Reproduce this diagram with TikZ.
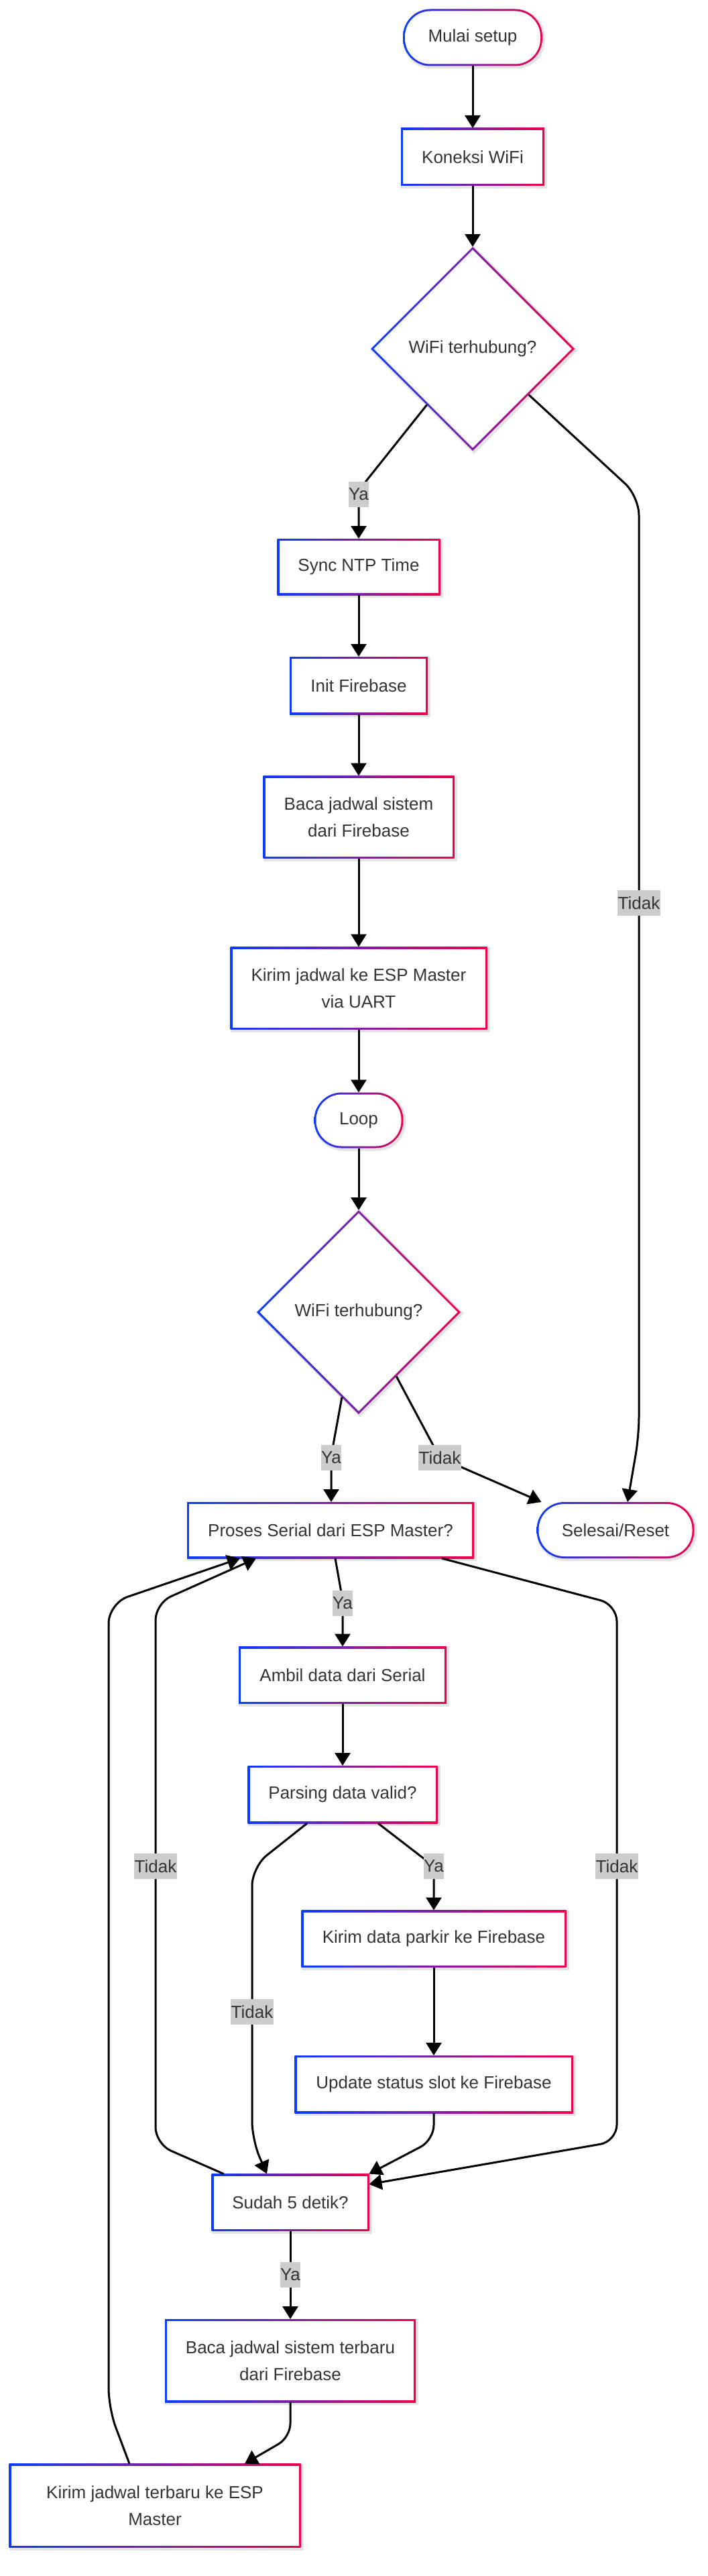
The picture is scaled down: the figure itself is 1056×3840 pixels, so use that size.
\documentclass[tikz,border=0pt]{standalone}
\usepackage{fontspec}
\setmainfont{Liberation Sans}
\usetikzlibrary{shapes.geometric,arrows.meta,calc}
\definecolor{gblue}{RGB}{10,60,255}
\definecolor{gred}{RGB}{240,0,74}
\definecolor{txt}{RGB}{51,51,51}
\definecolor{lblbg}{RGB}{204,204,204}
\definecolor{shad}{RGB}{228,228,228}
\tikzset{
  base/.style={inner sep=0pt, outer sep=0pt, align=center, text=txt, font=\fontsize{26}{40}\selectfont},
  shadowed/.style={preaction={draw=shad, line width=4pt, transform canvas={shift={(2pt,-2pt)}}}},
  gradrect/.style={base, shadowed, rectangle, path picture={
    \shade[left color=gblue,right color=gred] (path picture bounding box.south west) rectangle (path picture bounding box.north east);
    \fill[white] ([shift={(3pt,3pt)}]path picture bounding box.south west) rectangle ([shift={(-3pt,-3pt)}]path picture bounding box.north east);}},
  gradpill/.style={base, shadowed, rectangle, rounded corners=41pt, path picture={
    \shade[left color=gblue,right color=gred] (path picture bounding box.south west) rectangle (path picture bounding box.north east);
    \fill[white, rounded corners=38pt] ([shift={(3pt,3pt)}]path picture bounding box.south west) rectangle ([shift={(-3pt,-3pt)}]path picture bounding box.north east);}},
  graddia/.style={base, shadowed, diamond, aspect=1, minimum width=304pt, minimum height=304pt, path picture={
    \shade[left color=gblue,right color=gred] (path picture bounding box.south west) rectangle (path picture bounding box.north east);
    \fill[white] ([yshift=-4.3pt]path picture bounding box.north) -- ([xshift=-4.3pt]path picture bounding box.east) -- ([yshift=4.3pt]path picture bounding box.south) -- ([xshift=4.3pt]path picture bounding box.west) -- cycle;}},
  conn/.style={draw=black, line width=3pt, -{Triangle[length=19pt,width=23pt]}},
  lbl/.style={base, fill=lblbg, inner xsep=0.5pt, minimum height=38pt}
}
\begin{document}
\begin{tikzpicture}[x=1pt,y=-1pt]
\fill[white] (0,0) rectangle (1056,3840);
\useasboundingbox (0,0) rectangle (1056,3840);

% nodes
\node[gradpill, minimum width=208pt, minimum height=85pt] (start) at (705,56) {Mulai setup};
\node[gradrect, minimum width=214pt, minimum height=86pt] (wifi) at (705,234) {Koneksi WiFi};
\node[graddia] (d1) at (705,520) {WiFi terhubung?};
\node[gradrect, minimum width=243pt, minimum height=84pt] (ntp) at (535,845) {Sync NTP Time};
\node[gradrect, minimum width=206pt, minimum height=86pt] (fb) at (535,1022) {Init Firebase};
\node[gradrect, minimum width=285pt, minimum height=123pt] (baca) at (535,1218) {Baca jadwal sistem\\dari Firebase};
\node[gradrect, minimum width=383pt, minimum height=123pt] (kirim) at (535,1473) {Kirim jadwal ke ESP Master\\via UART};
\node[gradpill, minimum width=133pt, minimum height=83pt] (loop) at (535,1670) {Loop};
\node[graddia] (d2) at (535,1956) {WiFi terhubung?};
\node[gradrect, minimum width=428pt, minimum height=84pt] (proses) at (493,2281) {Proses Serial dari ESP Master?};
\node[gradpill, minimum width=235pt, minimum height=84pt] (selesai) at (918,2281) {Selesai/Reset};
\node[gradrect, minimum width=310pt, minimum height=85pt] (ambil) at (511,2497) {Ambil data dari Serial};
\node[gradrect, minimum width=283pt, minimum height=86pt] (parsing) at (511,2675) {Parsing data valid?};
\node[gradrect, minimum width=395pt, minimum height=85pt] (kdata) at (647,2890) {Kirim data parkir ke Firebase};
\node[gradrect, minimum width=415pt, minimum height=86pt] (update) at (647,3107) {Update status slot ke Firebase};
\node[gradrect, minimum width=235pt, minimum height=85pt] (sudah) at (433,3283) {Sudah 5 detik?};
\node[gradrect, minimum width=374pt, minimum height=124pt] (bacat) at (433,3519) {Baca jadwal sistem terbaru\\dari Firebase};
\node[gradrect, minimum width=435pt, minimum height=125pt] (kirimt) at (231,3735) {Kirim jadwal terbaru ke ESP\\Master};

% connectors
\draw[conn] (start) -- (wifi);
\draw[conn] (wifi) -- (d1);
\draw[conn, rounded corners=14pt] ($(d1.west)!0.55!(d1.south)$) -- (535,731) -- (ntp.north);
\draw[conn, rounded corners=28pt] ($(d1.east)!0.45!(d1.south)$) -- (953,740) -- (953,2140) -- ($(selesai.north)+(18,0)$);
\draw[conn] (ntp) -- (fb);
\draw[conn] (fb) -- (baca);
\draw[conn] (baca) -- (kirim);
\draw[conn] (kirim) -- (loop);
\draw[conn] (loop) -- (d2);
\draw[conn, rounded corners=10pt] ($(d2.south)!0.165!(d2.west)$) -- (494,2170) -- (proses.north -| 494,0);
\draw[conn, rounded corners=6pt] ($(d2.south)!0.37!(d2.east)$) -- (656,2173) -- ($(selesai.north west)+(7,0)$);
\draw[conn, rounded corners=10pt] ($(proses.south)+(7,0)$) -- (511,2385) -- (ambil.north);
\draw[conn] (ambil) -- (parsing);
\draw[conn, rounded corners=12pt] ($(parsing.south)+(53,0)$) -- (647,2782) -- (kdata.north);
\draw[conn, rounded corners=28pt] ($(parsing.south)+(-53,0)$) -- (376,2783) -- (376,3190) -- ($(sudah.north)+(-35,0)$);
\draw[conn] (kdata) -- (update);
\draw[conn, rounded corners=22pt] (update.south) -- (647,3190) -- (sudah.north east);
\draw[conn, rounded corners=25pt] ($(proses.south)+(166,0)$) -- (920,2392) -- (920,3192) -- ($(sudah.east)+(0,-27)$);
\draw[conn, rounded corners=25pt] ($(sudah.north west)+(18,0)$) -- (232,3196) -- (232,2390) -- ($(proses.south)+(-111,0)$);
\draw[conn] (sudah) -- (bacat);
\draw[conn, rounded corners=20pt] (bacat.south) -- (433,3633) -- ($(kirimt.north)+(134,0)$);
\draw[conn, rounded corners=30pt] ($(kirimt.north)+(-38,0)$) -- (162,3590) -- (162,2390) -- ($(proses.south)+(-135,0)$);

% edge labels
\node[lbl] (lya1) at (535,737) {Ya};
\node[lbl] (ltidak1) at (953,1346) {Tidak};
\node[lbl] (lya2) at (494,2173) {Ya};
\node[lbl] (ltidak2) at (656,2173) {Tidak};
\node[lbl] (lya3) at (511,2390) {Ya};
\node[lbl] (lya4) at (647,2782) {Ya};
\node[lbl] (ltidak3) at (376,2999) {Tidak};
\node[lbl] (ltidak4) at (232,2782) {Tidak};
\node[lbl] (ltidak5) at (920,2782) {Tidak};
\node[lbl] (lya5) at (433,3391) {Ya};
\end{tikzpicture}
\end{document}
